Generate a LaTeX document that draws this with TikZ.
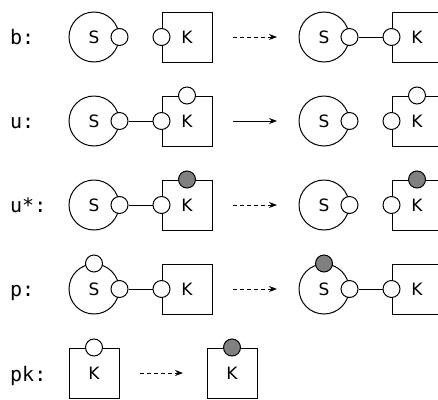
\documentclass[tikz,border=0pt]{standalone}
\usepackage{fontspec}
\setmainfont{DejaVu Sans}
\newfontfamily\lblfont{DejaVu Sans Mono}
\usetikzlibrary{arrows.meta}
\tikzset{
  bigc/.style={draw, circle, line width=1pt, minimum size=50pt, inner sep=0pt, font=\fontsize{17}{17}\selectfont},
  sq/.style={draw, rectangle, line width=1pt, minimum size=50pt, inner sep=0pt, font=\fontsize{17}{17}\selectfont},
  port/.style={draw, circle, line width=1pt, fill=white, minimum size=17pt, inner sep=0pt},
  fport/.style={port, fill=black!50},
  lbl/.style={anchor=base west, inner sep=0pt, font=\lblfont\fontsize{20}{20}\selectfont},
  link/.style={line width=1pt},
  solidarr/.style={line width=1pt, -{Stealth[length=8pt,width=6pt]}},
  dasharr/.style={line width=1pt, dash pattern=on 4pt off 3pt, -{Stealth[length=8pt,width=6pt]}},
}
\begin{document}
\begin{tikzpicture}[x=1pt,y=-1pt]
\useasboundingbox (0,0) rectangle (438,399);
\clip (0,0) rectangle (438,399);
% row b
\node[lbl] (lb) at (10,44) {b:};
\node[bigc] (bS1) at (94,37) {S};
\node[port] (bS1e) at (bS1.east) {};
\node[sq] (bK1) at (187,37) {K};
\node[port] (bK1w) at (bK1.west) {};
\coordinate (ba1) at (233,37);
\coordinate (ba2) at (277,37);
\draw[dasharr] (ba1) -- (ba2);
\node[bigc] (bS2) at (324,37) {S};
\node[port] (bS2e) at (bS2.east) {};
\node[sq] (bK2) at (417,37) {K};
\node[port] (bK2w) at (bK2.west) {};
\draw[link] (bS2e) -- (bK2w);
% row u
\node[lbl] (lu) at (10,128) {u:};
\node[bigc] (uS1) at (94,121) {S};
\node[port] (uS1e) at (uS1.east) {};
\node[sq] (uK1) at (187,121) {K};
\node[port] (uK1w) at (uK1.west) {};
\node[port] (uK1n) at (uK1.north) {};
\draw[link] (uS1e) -- (uK1w);
\coordinate (ua1) at (233,121);
\coordinate (ua2) at (277,121);
\draw[solidarr] (ua1) -- (ua2);
\node[bigc] (uS2) at (324,121) {S};
\node[port] (uS2e) at (uS2.east) {};
\node[sq] (uK2) at (417,121) {K};
\node[port] (uK2w) at (uK2.west) {};
\node[port] (uK2n) at (uK2.north) {};
% row u*
\node[lbl] (lus) at (10,212) {u*:};
\node[bigc] (vS1) at (94,205) {S};
\node[port] (vS1e) at (vS1.east) {};
\node[sq] (vK1) at (187,205) {K};
\node[port] (vK1w) at (vK1.west) {};
\node[fport] (vK1n) at (vK1.north) {};
\draw[link] (vS1e) -- (vK1w);
\coordinate (va1) at (233,205);
\coordinate (va2) at (277,205);
\draw[dasharr] (va1) -- (va2);
\node[bigc] (vS2) at (324,205) {S};
\node[port] (vS2e) at (vS2.east) {};
\node[sq] (vK2) at (417,205) {K};
\node[port] (vK2w) at (vK2.west) {};
\node[fport] (vK2n) at (vK2.north) {};
% row p
\node[lbl] (lp) at (10,296) {p:};
\node[bigc] (pS1) at (94,289) {S};
\node[port] (pS1e) at (pS1.east) {};
\node[port] (pS1n) at (pS1.north) {};
\node[sq] (pK1) at (187,289) {K};
\node[port] (pK1w) at (pK1.west) {};
\draw[link] (pS1e) -- (pK1w);
\coordinate (pa1) at (233,289);
\coordinate (pa2) at (277,289);
\draw[dasharr] (pa1) -- (pa2);
\node[bigc] (pS2) at (324,289) {S};
\node[port] (pS2e) at (pS2.east) {};
\node[fport] (pS2n) at (pS2.north) {};
\node[sq] (pK2) at (417,289) {K};
\node[port] (pK2w) at (pK2.west) {};
\draw[link] (pS2e) -- (pK2w);
% row pk
\node[lbl] (lpk) at (10,381) {pk:};
\node[sq] (kK1) at (94,373) {K};
\node[port] (kK1n) at (kK1.north) {};
\coordinate (ka1) at (140,373);
\coordinate (ka2) at (183,373);
\draw[dasharr] (ka1) -- (ka2);
\node[sq] (kK2) at (232,373) {K};
\node[fport] (kK2n) at (kK2.north) {};
\end{tikzpicture}
\end{document}
